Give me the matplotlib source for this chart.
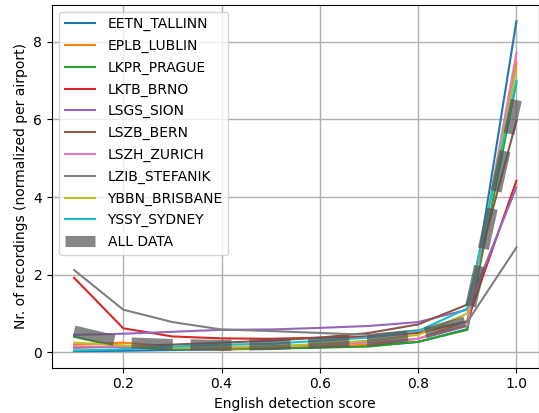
import matplotlib
matplotlib.use("Agg")
import matplotlib.pyplot as plt

scores = [0.1, 0.2, 0.3, 0.4, 0.5, 0.6, 0.7, 0.8, 0.9, 1.0]

airports = ["EETN_TALLINN", "EPLB_LUBLIN", "LKPR_PRAGUE", "LKTB_BRNO", "LSGS_SION",
            "LSZB_BERN", "LSZH_ZURICH", "LZIB_STEFANIK", "YBBN_BRISBANE", "YSSY_SYDNEY"]

eetn = [0.03, 0.04, 0.06, 0.08, 0.10, 0.13, 0.17, 0.27, 0.60, 8.53]
eplb = [0.20, 0.25, 0.15, 0.07, 0.10, 0.15, 0.20, 0.35, 0.80, 7.46]
lkpr = [0.40, 0.12, 0.08, 0.10, 0.10, 0.12, 0.15, 0.27, 0.58, 6.95]
lktb = [1.92, 0.62, 0.41, 0.36, 0.35, 0.38, 0.40, 0.50, 0.80, 4.42]
lsgs = [0.45, 0.48, 0.53, 0.58, 0.59, 0.63, 0.68, 0.78, 1.10, 4.25]
lszb = [0.12, 0.15, 0.20, 0.25, 0.30, 0.38, 0.50, 0.72, 1.23, 5.96]
lszh = [0.15, 0.15, 0.12, 0.12, 0.15, 0.20, 0.25, 0.35, 0.70, 7.71]
lzib = [2.12, 1.10, 0.78, 0.59, 0.55, 0.50, 0.45, 0.57, 0.78, 2.70]
ybbn = [0.25, 0.18, 0.12, 0.15, 0.15, 0.22, 0.30, 0.45, 1.00, 7.30]
yssy = [0.05, 0.08, 0.15, 0.20, 0.22, 0.30, 0.38, 0.55, 1.13, 7.00]
all_data = [0.55, 0.25, 0.20, 0.18, 0.20, 0.25, 0.30, 0.45, 0.80, 6.50]

series = [eetn, eplb, lkpr, lktb, lsgs, lszb, lszh, lzib, ybbn, yssy]

fig, ax = plt.subplots(figsize=(5.39, 4.13), dpi=100)
for name, vals in zip(airports, series):
    ax.plot(scores, vals, label=name, lw=1.5)
ax.plot(scores, all_data, label="ALL DATA", color="#555555", lw=8, ls="--", alpha=0.7)

ax.set_xlabel("English detection score")
ax.set_ylabel("Nr. of recordings (normalized per airport)")
ax.grid(True, color="#b0b0b0", lw=1.0)
ax.legend(loc="upper left", labelspacing=0.55, handlelength=2.2, handletextpad=0.9)
fig.subplots_adjust(left=52/539, right=538.5/539, top=1-4.7/413, bottom=1-367.7/413)
fig.savefig("out.png", dpi=100)
